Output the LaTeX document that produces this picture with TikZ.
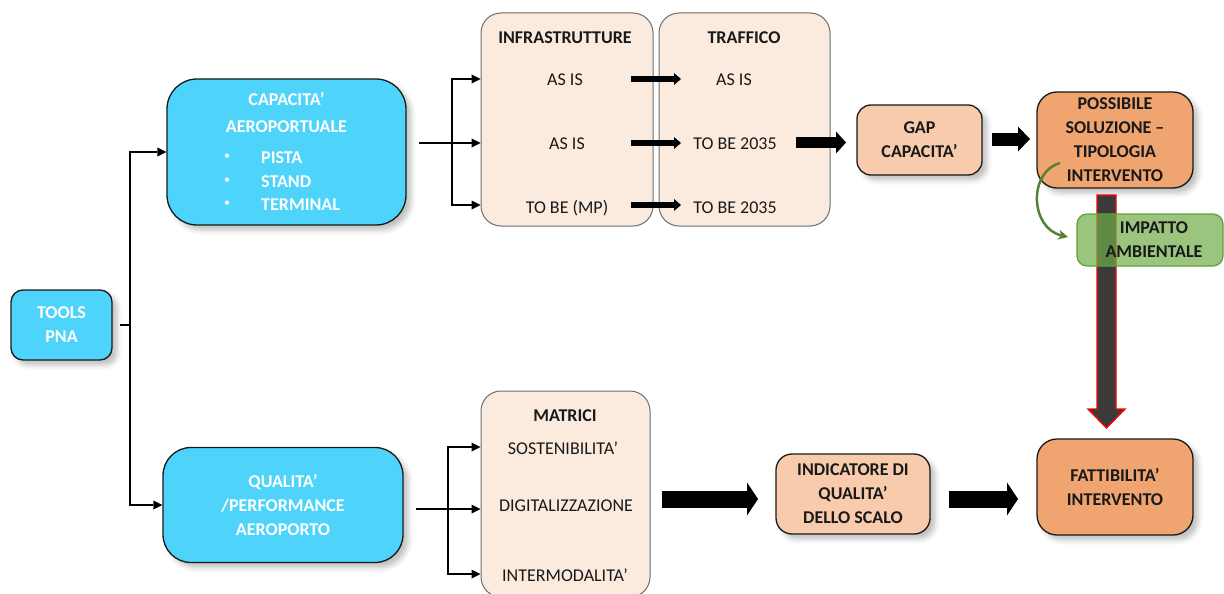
\documentclass[tikz,border=0pt]{standalone}
\usepackage{fontspec}
\setmainfont{Carlito}
\usetikzlibrary{arrows.meta,shadows.blur,calc}
\definecolor{cyanf}{RGB}{78,212,250}
\definecolor{peachL}{RGB}{251,234,222}
\definecolor{peachM}{RGB}{248,203,173}
\definecolor{orangeF}{RGB}{240,164,112}
\definecolor{greenF}{RGB}{112,173,71}
\definecolor{greenB}{RGB}{96,160,58}
\definecolor{greenA}{RGB}{84,130,53}
\definecolor{boxline}{RGB}{25,25,25}
\definecolor{grayline}{RGB}{110,110,110}
\definecolor{txt}{RGB}{25,25,25}
\definecolor{arrowdark}{RGB}{58,58,58}
\begin{document}
\begin{tikzpicture}[x=1pt,y=-1pt,
  box/.style={draw=boxline, line width=1.3pt, inner sep=0pt, align=center,
    font=\bfseries\fontsize{18}{24}\selectfont, text=txt},
  shad/.style={blur shadow={shadow xshift=5pt, shadow yshift=-5pt, shadow blur radius=5pt, shadow opacity=25}},
  cyanbox/.style={box, fill=cyanf, text=white, shad},
  peachbox/.style={box, fill=peachM, shad},
  orangebox/.style={box, fill=orangeF, shad},
  listbox/.style={draw=grayline, line width=1pt, fill=peachL, rounded corners=20pt, inner sep=0pt},
  rtext/.style={font=\fontsize{18}{24}\selectfont, text=txt, anchor=base, inner sep=0pt},
  btext/.style={font=\bfseries\fontsize{18}{24}\selectfont, text=txt, anchor=base, inner sep=0pt},
  wtext/.style={font=\bfseries\fontsize{18}{24}\selectfont, text=white, anchor=base, inner sep=0pt},
  bullettext/.style={font=\fontsize{12}{14}\selectfont, text=white, anchor=center, inner sep=0pt},
  conn/.style={line width=1.8pt, -{Triangle[width=9pt,length=9pt,line width=0pt]}},
  plainline/.style={line width=1.8pt},
  fatA/.style={line width=6pt, -{Triangle[width=12pt,length=7pt,line width=0pt]}},
  fatB/.style={line width=11pt, -{Triangle[width=22pt,length=10pt,line width=0pt]}},
  fatC/.style={line width=13pt, -{Triangle[width=25pt,length=12pt,line width=0pt]}},
  fatD/.style={line width=17pt, -{Triangle[width=33pt,length=11pt,line width=0pt]}},
]
\useasboundingbox (0,0) rectangle (1224,594);

% ---------- left column ----------
\node[cyanbox, minimum width=101pt, minimum height=70pt, rounded corners=12pt] (tools) at (61.5,325) {TOOLS\\PNA};

\node[cyanbox, minimum width=239pt, minimum height=146pt, rounded corners=30pt] (cap) at (286.5,152) {};
\node[wtext] (capt1) at (286.5,106) {CAPACITA’};
\node[wtext] (capt2) at (286.5,132) {AEROPORTUALE};
\node[bullettext] (b1) at (227,157) {•};
\node[bullettext] (b2) at (227,181) {•};
\node[bullettext] (b3) at (227,204) {•};
\node[wtext, anchor=base west] (l1) at (261,163) {PISTA};
\node[wtext, anchor=base west] (l2) at (261,187) {STAND};
\node[wtext, anchor=base west] (l3) at (261,210) {TERMINAL};

\node[cyanbox, minimum width=240pt, minimum height=115pt, rounded corners=28pt] (qual) at (283,505) {QUALITA’\\/PERFORMANCE\\AEROPORTO};

% tools connectors
\coordinate (t0) at (120,325);
\coordinate (tj) at (130,325);
\draw[plainline] (t0) -- (tj);
\draw[conn] (tj) |- (cap.west);
\draw[conn] (tj) |- (qual.west);

% ---------- infrastrutture / traffico ----------
\node[listbox, minimum width=172pt, minimum height=213pt] (infra) at (567,119.5) {};
\node[listbox, minimum width=171pt, minimum height=213pt] (traf) at (744.5,119.5) {};

\node[btext] (it) at (565,44) {INFRASTRUTTURE};
\node[btext] (tt) at (744,44) {TRAFFICO};

\coordinate (row1) at (0,79);
\coordinate (row2) at (0,143);
\coordinate (row3) at (0,205);

\node[rtext] (ia1) at (565,85) {AS IS};
\node[rtext] (ia2) at (567,149) {AS IS};
\node[rtext] (ia3) at (567,213) {TO BE (MP)};
\node[rtext] (ta1) at (734,85) {AS IS};
\node[rtext] (ta2) at (735,149) {TO BE 2035};
\node[rtext] (ta3) at (735,213) {TO BE 2035};

% cap -> infra
\coordinate (c0) at (419,143);
\coordinate (cj) at (452,143);
\draw[conn] (c0) -- (infra.west |- row2);
\draw[conn] (cj |- row3) -- (cj |- row1) -- (infra.west |- row1);
\draw[conn] (cj |- row2) -- (cj |- row3) -- (infra.west |- row3);

% infra -> traffico rows
\coordinate (fs) at (631,0);
\coordinate (fe) at (681,0);
\draw[fatA] (fs |- row1) -- (fe |- row1);
\draw[fatA] (fs |- row2) -- (fe |- row2);
\draw[fatA] (fs |- row3) -- (fe |- row3);

% ---------- gap / possibile soluzione ----------
\node[peachbox, minimum width=125pt, minimum height=70pt, rounded corners=14pt] (gap) at (919.5,140) {GAP\\CAPACITA’};
\node[orangebox, minimum width=156pt, minimum height=96pt, rounded corners=20pt] (poss) at (1115,140) {POSSIBILE\\SOLUZIONE –\\TIPOLOGIA\\INTERVENTO};

\coordinate (g1s) at (796,142.5);
\coordinate (g1e) at (846,142.5);
\draw[fatB] (g1s) -- (g1e);
\coordinate (g2s) at (992,139);
\coordinate (g2e) at (1030,139);
\draw[fatC] (g2s) -- (g2e);

% big vertical arrow
\coordinate (vtop) at (1106.5,195);
\coordinate (vtip) at (1106.5,428);
\draw[fill=arrowdark, draw=red, line width=1.4pt, line join=miter]
  ($(vtop)+(-9.5,0)$) -- ($(vtop)+(9.5,0)$) -- ($(vtip)+(9.5,-19)$) -- ($(vtip)+(18.5,-19)$)
  -- (vtip) -- ($(vtip)+(-18.5,-19)$) -- ($(vtip)+(-9.5,-19)$) -- cycle;

% green curved arrow and impatto box
\coordinate (gc0) at (1060,163);
\coordinate (gc1) at (1068,237);
\draw[greenA, line width=2.5pt, -{Stealth[length=10pt,width=10pt,line width=0pt]}]
  (gc0) .. controls (1028,172) and (1030,228) .. (gc1);

\node[box, fill=greenF, fill opacity=0.7, text opacity=1, draw=greenB, line width=1.2pt,
  rounded corners=10pt, minimum width=146pt, minimum height=52pt] (imp) at (1150,240) {};
\node[btext, anchor=center, align=center] (impt) at (1154,240) {IMPATTO\\AMBIENTALE};

% ---------- matrici / indicatore / fattibilita ----------
\node[listbox, minimum width=169pt, minimum height=206pt] (matr) at (565.5,494) {};
\node[btext] (mt) at (565,421) {MATRICI};
\coordinate (mrow1) at (0,447);
\coordinate (mrow2) at (0,509);
\coordinate (mrow3) at (0,574);
\node[rtext] (m1) at (563,454) {SOSTENIBILITA’};
\node[rtext] (m2) at (566,511) {DIGITALIZZAZIONE};
\node[rtext] (m3) at (565,581) {INTERMODALITA’};

\coordinate (q0) at (416,509);
\coordinate (qj) at (448,509);
\draw[conn] (q0) -- (matr.west |- mrow2);
\draw[conn] (qj |- mrow3) -- (qj |- mrow1) -- (matr.west |- mrow1);
\draw[conn] (qj |- mrow2) -- (qj |- mrow3) -- (matr.west |- mrow3);

\node[peachbox, minimum width=154pt, minimum height=80pt, rounded corners=16pt] (ind) at (853,494) {INDICATORE DI\\QUALITA’\\DELLO SCALO};
\node[orangebox, minimum width=156pt, minimum height=96pt, rounded corners=20pt] (fatt) at (1115,487) {FATTIBILITA’\\INTERVENTO};

\coordinate (h1s) at (662,499);
\coordinate (h1e) at (758,499);
\draw[fatD] (h1s) -- (h1e);
\coordinate (h2s) at (949,499);
\coordinate (h2e) at (1018,499);
\draw[fatD] (h2s) -- (h2e);

\end{tikzpicture}
\end{document}
